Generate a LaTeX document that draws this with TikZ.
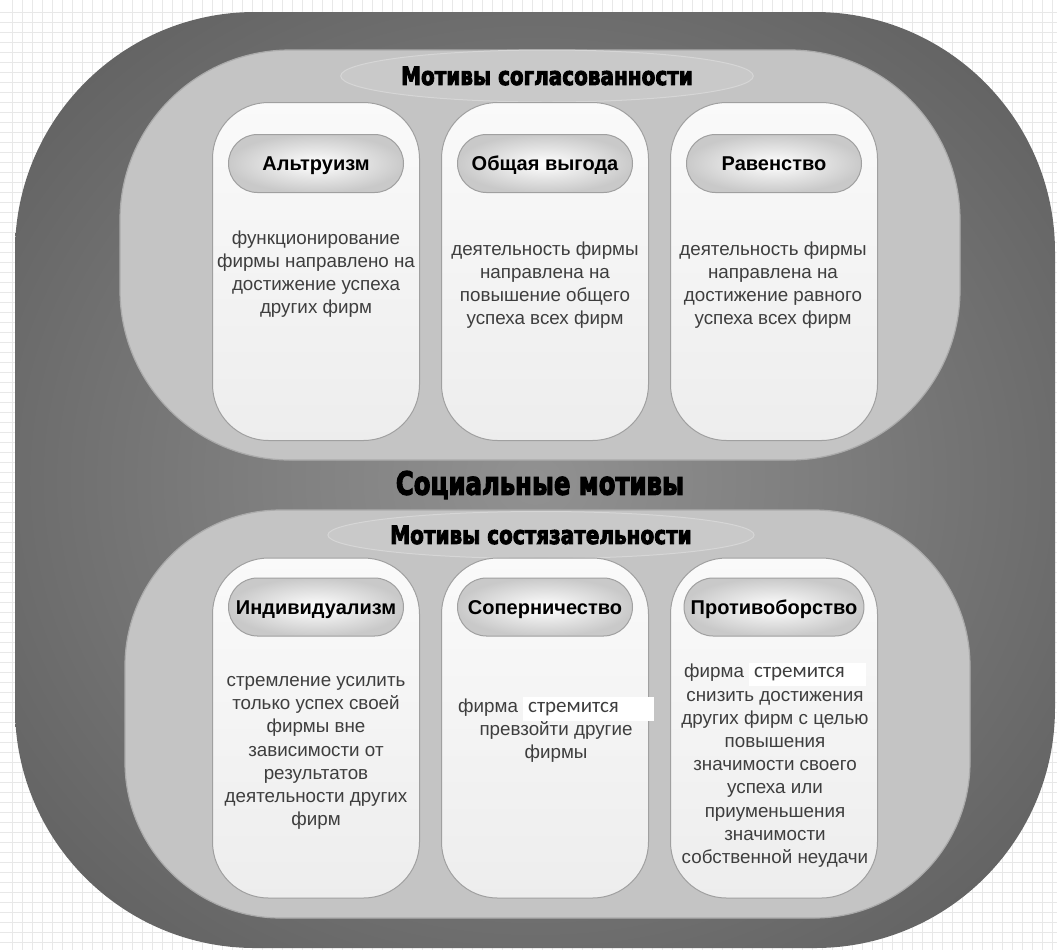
\documentclass[tikz,border=0pt]{standalone}
\usepackage{fontspec}
\setmainfont{Liberation Sans}
\newfontfamily\titlefont[FakeBold=4,BoldFeatures={FakeBold=4}]{DejaVu Sans}
\newfontfamily\calibrifont{Carlito}
\usetikzlibrary{positioning,shapes.geometric}
\definecolor{bandgray}{RGB}{196,196,196}
\definecolor{cardline}{RGB}{160,160,160}
\definecolor{bodytext}{RGB}{62,62,62}
\definecolor{gridgray}{RGB}{232,232,232}
\pgfdeclareradialshading{ringshade}{\pgfpoint{0bp}{0bp}}{color(0bp)=(black!43); color(16bp)=(black!52); color(34bp)=(black!63); color(50bp)=(black!68)}
\newcommand{\strem}[1]{{\setlength{\fboxsep}{2.5pt}\colorbox{white}{\calibrifont\fontsize{10.5}{11.6}\selectfont стремится\hspace{#1}}}}
\newcommand{\heavy}[2]{\scalebox{#1}[1]{\color{black}\titlefont\bfseries #2}}

\begin{document}
\begin{tikzpicture}[x=0.5pt, y=-0.5pt, node distance=10.5pt,
  every node/.style={font=\fontsize{9.4}{11.6}\selectfont},
  card/.style={draw=cardline, line width=0.5pt, rounded corners=28pt, top color=black!2, bottom color=black!7, minimum width=103.5pt, minimum height=169pt},
  pill/.style={draw=cardline, line width=0.5pt, rounded corners=14.5pt, inner color=white, outer color=black!21, minimum width=87.5pt, minimum height=29pt, text height=7.2pt, text depth=0pt, font=\fontsize{10}{12}\selectfont\bfseries},
  txt/.style={align=center, text=bodytext, inner sep=0pt},
  band/.style={fill=bandgray, draw=black!33, line width=0.6pt},
  halo/.style={ellipse, draw=black!16, fill=black!21, line width=0.5pt, inner sep=0pt},
  heading/.style={text=black, font=\fontsize{12.5}{14}\selectfont}]
\useasboundingbox (0,0) rectangle (1057,950);
\fill[white] (0,0) rectangle (1057,950);
% grid paper behind
\foreach \gx in {12,22,...,1052} \draw[gridgray, line width=0.4pt] (\gx,0) -- (\gx,950);
\foreach \gy in {12,22,...,942} \draw[gridgray, line width=0.4pt] (0,\gy) -- (1057,\gy);
% outer ring and the two bands
\shade[shading=ringshade, rounded corners=120pt] (15,12) rectangle (1055,948);
\path[band, rounded corners=85pt] (120,50) rectangle (960,460);
\path[band, rounded corners=78pt] (125,510) rectangle (970,918);
\node[halo, heading, minimum width=205pt, minimum height=26pt] (agree) at (547,76) {\heavy{0.8}{Мотивы согласованности}};
\node[text=black, font=\fontsize{16}{18}\selectfont] (social) at (540,485) {\heavy{0.76}{Социальные мотивы}};
\node[halo, heading, minimum width=206pt, minimum height=23.5pt] (compete) at (541,535) {\heavy{0.8}{Мотивы состязательности}};
% upper cards
\node[card] (alt) at (316,271.5) {};
\node[card, right=of alt] (gain) {};
\node[card, right=of gain] (eq) {};
\node[pill, below=16pt of alt.north] (altH) {Альтруизм};
\node[pill, below=16pt of gain.north] (gainH) {Общая выгода};
\node[pill, below=16pt of eq.north] (eqH) {Равенство};
\node[txt] (altT) at (316,274) {функционирование\\фирмы направлено на\\достижение успеха\\других фирм};
\node[txt] (gainT) at (545,285) {деятельность фирмы\\направлена на\\повышение общего\\успеха всех фирм};
\node[txt] (eqT) at (773,285) {деятельность фирмы\\направлена на\\достижение равного\\успеха всех фирм};
% lower cards
\node[card, minimum height=170pt] (ind) at (316,728) {};
\node[card, minimum height=170pt, right=of ind] (riv) {};
\node[card, minimum height=170pt, right=of riv] (opp) {};
\node[pill, below=10pt of ind.north] (indH) {Индивидуализм};
\node[pill, below=10pt of riv.north] (rivH) {Соперничество};
\node[pill, below=10pt of opp.north] (oppH) {Противоборство};
\node[txt] (indT) at (316,753) {стремление усилить\\только успех своей\\фирмы вне\\зависимости от\\результатов\\деятельности других\\фирм};
\node[txt] (rivT) at (556,730) {фирма \strem{15pt}\\превзойти другие\\фирмы};
\node[txt] (oppT) at (775,765) {фирма \strem{8pt}\\снизить достижения\\других фирм с целью\\повышения\\значимости своего\\успеха или\\приуменьшения\\значимости\\собственной неудачи};
\end{tikzpicture}
\end{document}
